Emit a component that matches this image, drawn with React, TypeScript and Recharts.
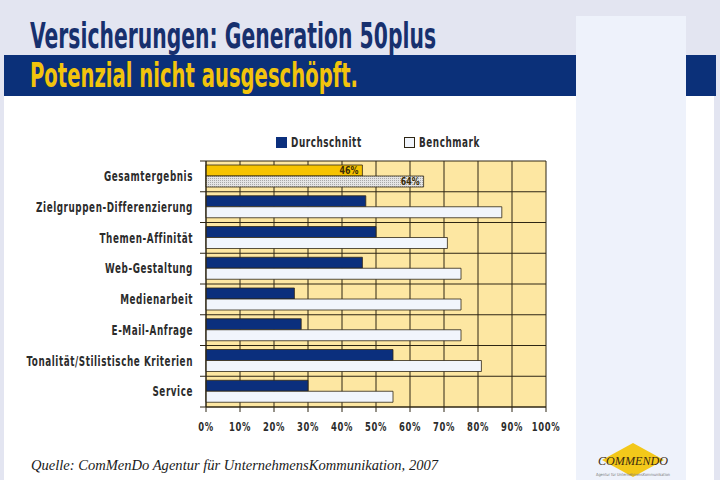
import { BarChart, Bar, XAxis, YAxis, CartesianGrid, Cell, LabelList, Legend } from 'recharts';

const categories = [
  'Gesamtergebnis',
  'Zielgruppen-Differenzierung',
  'Themen-Affinität',
  'Web-Gestaltung',
  'Medienarbeit',
  'E-Mail-Anfrage',
  'Tonalität/Stilistische Kriterien',
  'Service',
];
const durchschnitt = [46, 47, 50, 46, 26, 28, 55, 30];
const benchmark = [64, 87, 71, 75, 75, 75, 81, 55];
const xTicks = [0, 10, 20, 30, 40, 50, 60, 70, 80, 90, 100];

const rows = categories.map((name, i) => ({
  name,
  avg: durchschnitt[i],
  bench: benchmark[i],
  // only the overall row carries a value label
  avgLabel: i === 0 ? `${durchschnitt[i]}%` : undefined,
  benchLabel: i === 0 ? `${benchmark[i]}%` : undefined,
}));

const NAVY = '#0b2f7d';
const PALE = '#f1f5fc';
const GOLD = '#f6c300';
const GRID = '#2e2614';
const PLOT_BG = '#fde7a2';
const CONDENSED = "'DejaVu Sans Condensed', 'DejaVu Sans', sans-serif";
const SQUEEZE = 0.7;

const PLOT_TOP = 161;
const PLOT_BOTTOM = 407;
const AXIS_X = 206;
const PLOT_RIGHT = 546;
const band = (PLOT_BOTTOM - PLOT_TOP) / categories.length;

const CategoryTick = ({ y, payload, index }: any) => (
  <g>
    <line x1={AXIS_X - 6} x2={AXIS_X} y1={y - band / 2} y2={y - band / 2} stroke={GRID} />
    {index === categories.length - 1 && (
      <line x1={AXIS_X - 6} x2={AXIS_X} y1={y + band / 2} y2={y + band / 2} stroke={GRID} />
    )}
    <g transform={`translate(${AXIS_X - 13},${y}) scale(${SQUEEZE},1)`}>
      <text
        textAnchor="end"
        dominantBaseline="central"
        fontFamily={CONDENSED}
        fontWeight="bold"
        fontSize={14}
        letterSpacing={0.8}
        fill="#2c2c2c"
      >
        {payload.value}
      </text>
    </g>
  </g>
);

const PercentTick = ({ x, payload }: any) => (
  <g transform={`translate(${x},${PLOT_BOTTOM + 20}) scale(0.78,1)`}>
    <text
      textAnchor="middle"
      dominantBaseline="central"
      fontFamily={CONDENSED}
      fontWeight="bold"
      fontSize={12}
      letterSpacing={0.8}
      fill="#2c2c2c"
    >
      {`${payload.value}%`}
    </text>
  </g>
);

const ValueLabel = ({ x, y, width, height, value }: any) =>
  value ? (
    <g transform={`translate(${x + width - 4},${y + height / 2}) scale(0.8,1)`}>
      <text
        textAnchor="end"
        dominantBaseline="central"
        fontFamily={CONDENSED}
        fontWeight="bold"
        fontSize={11}
        fill="#3a2c08"
      >
        {value}
      </text>
    </g>
  ) : null;

const LegendContent = ({ payload }: any) => {
  const items = [...(payload || [])].sort((a: any, b: any) => (a.dataKey === 'avg' ? -1 : b.dataKey === 'avg' ? 1 : 0));
  return (
    <div style={{ display: 'flex' }}>
      {items.map((p: any) => (
        <div key={p.value} style={{ display: 'flex', alignItems: 'center', width: 128 }}>
          <span
            style={{
              display: 'inline-block',
              width: 9,
              height: 9,
              background: p.dataKey === 'avg' ? NAVY : PALE,
              border: `1px solid ${p.dataKey === 'avg' ? NAVY : GRID}`,
              marginRight: 4,
            }}
          />
          <span
            style={{
              display: 'inline-block',
              fontFamily: CONDENSED,
              fontWeight: 'bold',
              fontSize: 14,
              letterSpacing: 0.8,
              color: '#2c2c2c',
              transform: `scaleX(${SQUEEZE})`,
              transformOrigin: 'left center',
              whiteSpace: 'nowrap',
            }}
          >
            {p.value}
          </span>
        </div>
      ))}
    </div>
  );
};

export default function App() {
  return (
    <div style={{ position: 'relative', width: 720, height: 480, background: '#e3e5f1', overflow: 'hidden' }}>
      <style>{'body{margin:0}'}</style>
      <div style={{ position: 'absolute', left: 4, top: 96, width: 710, height: 384, background: '#ffffff' }} />
      <div style={{ position: 'absolute', left: 4, top: 55, width: 712, height: 41, background: '#0b3079' }} />
      <div style={{ position: 'absolute', left: 576, top: 16, width: 110, height: 464, background: '#eef2fb' }} />

      <svg width={720} height={480} style={{ position: 'absolute', left: 0, top: 0 }}>
        <text
          x={30}
          y={48}
          textLength={406}
          lengthAdjust="spacingAndGlyphs"
          fontFamily={CONDENSED}
          fontWeight="bold"
          fontSize={35}
          fill="#17306e"
        >
          Versicherungen: Generation 50plus
        </text>
        <text
          x={30}
          y={87}
          textLength={328}
          lengthAdjust="spacingAndGlyphs"
          fontFamily={CONDENSED}
          fontWeight="bold"
          fontSize={33}
          fill="#f2c40c"
        >
          Potenzial nicht ausgeschöpft.
        </text>
        <text
          x={31}
          y={470}
          textLength={407}
          lengthAdjust="spacingAndGlyphs"
          fontFamily="'Liberation Serif', serif"
          fontStyle="italic"
          fontSize={14}
          fill="#1a1a1a"
        >
          Quelle: ComMenDo Agentur für UnternehmensKommunikation, 2007
        </text>
        {/* logo */}
        <polygon points="633,443 664,460 633,477 602,460" fill="#f3c81a" />
        <text x={598} y={465} fontFamily="'Liberation Serif', serif" fontStyle="italic" fontSize={13} fill="#3a2a10" textLength={70} lengthAdjust="spacingAndGlyphs">
          COMMENDO
        </text>
        <text x={596} y={476} fontFamily="'DejaVu Sans', sans-serif" fontSize={4} fill="#777" textLength={74} lengthAdjust="spacingAndGlyphs">
          Agentur für UnternehmensKommunikation
        </text>
      </svg>

      <div style={{ position: 'absolute', left: 0, top: 0 }}>
        <BarChart
          layout="vertical"
          width={720}
          height={480}
          data={rows}
          margin={{ top: PLOT_TOP, right: 720 - PLOT_RIGHT, bottom: 480 - PLOT_BOTTOM - 30, left: 0 }}
          barCategoryGap={4}
          barGap={0}
        >
          <defs>
            <pattern id="dotted" width={2} height={2} patternUnits="userSpaceOnUse">
              <rect width={2} height={2} fill="#e4e4e4" />
              <rect width={1} height={1} fill="#a8a8a8" />
            </pattern>
          </defs>
          <CartesianGrid
            fill={PLOT_BG}
            fillOpacity={1}
            stroke={GRID}
            strokeOpacity={1}
            horizontalCoordinatesGenerator={({ offset }: any) =>
              categories.map((_, i) => offset.top + (i * offset.height) / categories.length).concat(offset.top + offset.height)
            }
          />
          <XAxis
            type="number"
            domain={[0, 100]}
            ticks={xTicks}
            height={30}
            stroke={GRID}
            tickSize={5}
            tick={<PercentTick />}
          />
          <YAxis
            type="category"
            dataKey="name"
            width={AXIS_X}
            interval={0}
            stroke={GRID}
            tickLine={false}
            tick={<CategoryTick />}
          />
          <Legend
            layout="horizontal"
            verticalAlign="middle"
            align="center"
            wrapperStyle={{ left: 276, top: 134, width: 260 }}
            content={<LegendContent />}
          />
          <Bar dataKey="avg" name="Durchschnitt" fill={NAVY} stroke={GRID} strokeWidth={0.8} isAnimationActive={false}>
            {rows.map((_, i) => (
              <Cell key={i} fill={i === 0 ? GOLD : NAVY} />
            ))}
            <LabelList dataKey="avgLabel" content={<ValueLabel />} />
          </Bar>
          <Bar dataKey="bench" name="Benchmark" fill={PALE} stroke={GRID} strokeWidth={0.8} isAnimationActive={false}>
            {rows.map((_, i) => (
              <Cell key={i} fill={i === 0 ? 'url(#dotted)' : PALE} />
            ))}
            <LabelList dataKey="benchLabel" content={<ValueLabel />} />
          </Bar>
        </BarChart>
      </div>
    </div>
  );
}
